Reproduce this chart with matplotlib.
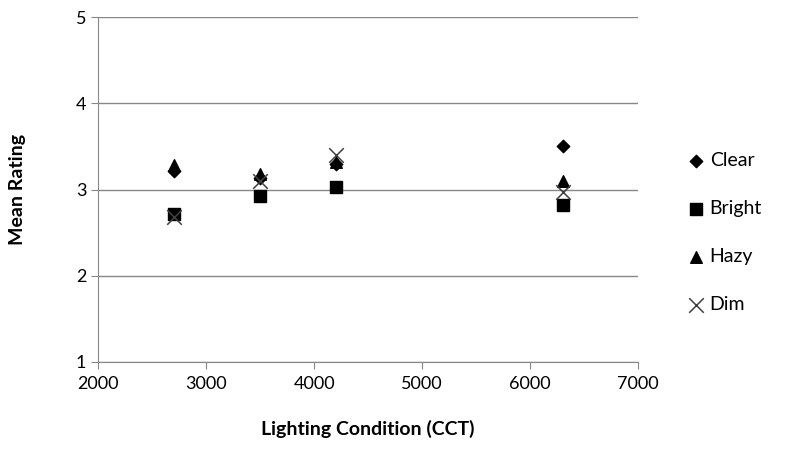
import matplotlib
matplotlib.use("Agg")
import matplotlib.pyplot as plt

plt.rcParams['font.family'] = ['Lato', 'DejaVu Sans']

cct = [2700, 3500, 4200, 6300]
clear = [3.22, 3.13, 3.30, 3.50]
bright = [2.72, 2.92, 3.03, 2.82]
hazy = [3.28, 3.18, 3.32, 3.10]
dim = [2.68, 3.10, 3.40, 2.97]

fig = plt.figure(figsize=(7.85, 4.75), dpi=100)
ax = fig.add_axes([0.125, 0.238, 0.688, 0.726])

ax.scatter(cct, clear, marker='D', s=40, color='black', label='Clear', zorder=3)
ax.scatter(cct, bright, marker='s', s=80, color='black', label='Bright', zorder=3)
ax.scatter(cct, hazy, marker='^', s=70, color='black', label='Hazy', zorder=3)
ax.scatter(cct, dim, marker='x', s=110, color='#404040', linewidths=1.1, label='Dim', zorder=4)

ax.set_xlim(2000, 7000)
ax.set_ylim(1, 5)
ax.set_xticks(range(2000, 7001, 1000))
ax.set_yticks(range(1, 6))
ax.grid(True, axis='y', color='#888888', linewidth=1)
ax.set_axisbelow(True)
for s in ['top', 'right']:
    ax.spines[s].set_visible(False)
for s in ['left', 'bottom']:
    ax.spines[s].set_color('#888888')
ax.tick_params(axis='both', colors='#888888', labelcolor='black', labelsize=13, length=5)
ax.tick_params(axis='x', pad=5)

ax.set_xlabel('Lighting Condition (CCT)', fontsize=14, fontweight='bold', labelpad=20)
ax.set_ylabel('Mean Rating', fontsize=14, fontweight='bold', labelpad=36)

ax.legend(loc='center left', bbox_to_anchor=(1.055, 0.375), frameon=False, fontsize=14,
          labelspacing=1.6, handletextpad=0.15, handlelength=1.1)

fig.savefig('out.png', dpi=100)
